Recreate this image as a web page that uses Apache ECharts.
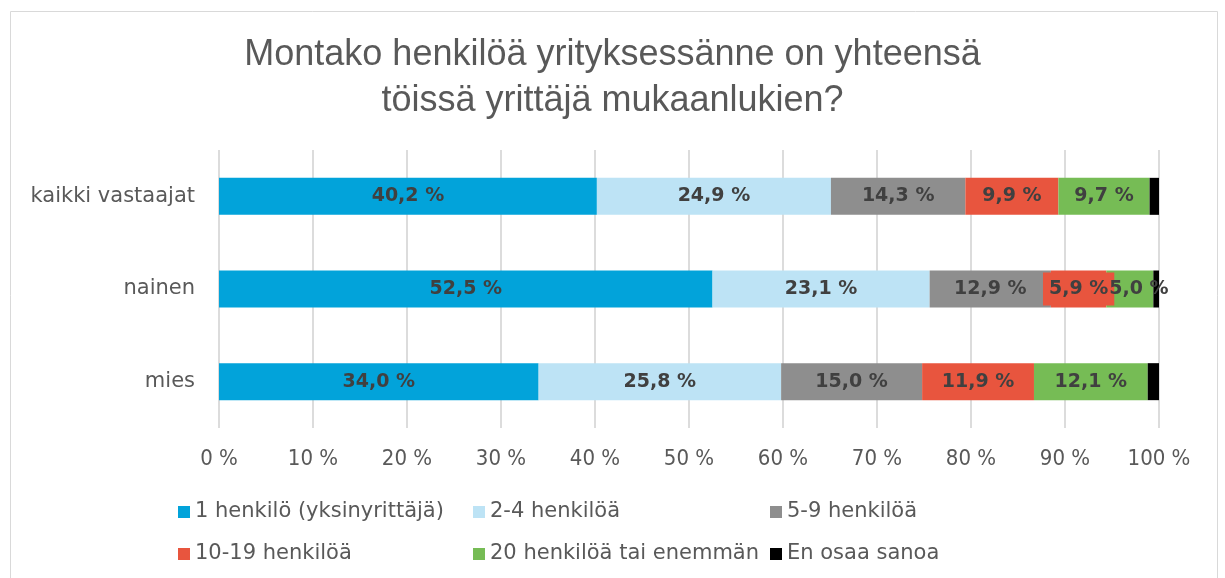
<!DOCTYPE html>
<html>
<head>
<meta charset="utf-8">
<script src="https://cdn.jsdelivr.net/npm/echarts@6/dist/echarts.min.js"></script>
<style>
  html, body { margin: 0; padding: 0; background: #fff; }
  #chart { width: 1225px; height: 578px; }
</style>
</head>
<body>
<div id="chart"></div>
<script>
const categories = ['kaikki vastaajat', 'nainen', 'mies'];
const seriesNames = [
  '1 henkilö (yksinyrittäjä)',
  '2-4 henkilöä',
  '5-9 henkilöä',
  '10-19 henkilöä',
  '20 henkilöä tai enemmän',
  'En osaa sanoa'
];
const yksin = [40.2, 52.5, 34.0];
const h2to4 = [24.9, 23.1, 25.8];
const h5to9 = [14.3, 12.9, 15.0];
const h10to19 = [9.9, 5.9, 11.9];
const h20plus = [9.7, 5.0, 12.1];
const eos = [1.0, 0.6, 1.2];
const colors = ['#02a3da', '#bde3f5', '#8e8e8e', '#e8553e', '#76bc55', '#000000'];

const chart = echarts.init(document.getElementById('chart'));

const textFont = '"DejaVu Sans", sans-serif';
const fmt = p => p.value.toFixed(1).replace('.', ',') + ' %';

const allData = [yksin, h2to4, h5to9, h10to19, h20plus, eos];

const series = allData.map((arr, i) => ({
  name: seriesNames[i],
  type: 'bar',
  stack: 'total',
  barWidth: 37,
  silent: true,
  itemStyle: { color: colors[i] },
  label: {
    show: i < 5,
    position: 'inside',
    formatter: fmt,
    color: '#404040',
    fontWeight: 'bold',
    fontSize: 19,
    fontFamily: textFont
  },
  data: arr.map((v, j) => {
    // nainen: the small segments' labels are pushed apart by Excel
    if (i === 3 && j === 1) {
      return { value: v, label: { backgroundColor: colors[3], padding: [7, 6] } };
    }
    if (i === 4 && j === 1) {
      return { value: v, label: { offset: [9, 0] } };
    }
    return v;
  })
}));

const legendText = { color: '#595959', fontSize: 21, lineHeight: 22, fontFamily: textFont };
const legendCols = [
  { left: 178, data: [seriesNames[0], seriesNames[3]] },
  { left: 473, data: [seriesNames[1], seriesNames[4]] },
  { left: 770, data: [seriesNames[2], seriesNames[5]] }
];

chart.setOption({
  animation: false,
  color: colors,
  title: {
    text: 'Montako henkilöä yrityksessänne on yhteensä\ntöissä yrittäjä mukaanlukien?',
    left: 'center',
    top: 32,
    padding: 0,
    textStyle: {
      fontFamily: '"Liberation Sans", Arial, sans-serif',
      fontWeight: 'normal',
      fontSize: 36,
      lineHeight: 46,
      color: '#595959'
    }
  },
  graphic: [{
    type: 'rect',
    shape: { x: 10.5, y: 11.5, width: 1207, height: 600 },
    style: { fill: 'none', stroke: '#d9d9d9', lineWidth: 1 },
    silent: true
  }],
  legend: legendCols.map(c => ({
    left: c.left,
    top: 501,
    padding: 0,
    orient: 'vertical',
    itemGap: 20,
    itemWidth: 12,
    itemHeight: 12,
    icon: 'rect',
    selectedMode: false,
    textStyle: legendText,
    data: c.data
  })),
  grid: { left: 219, right: 66, top: 150, bottom: 150 },
  xAxis: {
    type: 'value',
    min: 0,
    max: 100,
    interval: 10,
    axisLine: { show: false },
    axisTick: { show: false },
    splitLine: { lineStyle: { color: '#dcdcdc', width: 2 } },
    axisLabel: {
      formatter: '{value} %',
      color: '#595959',
      fontSize: 22,
      margin: 20,
      fontFamily: '"Liberation Sans Narrow", "DejaVu Sans Condensed", sans-serif'
    }
  },
  yAxis: {
    type: 'category',
    inverse: true,
    data: categories,
    axisLine: { show: false },
    axisTick: { show: false },
    axisLabel: {
      color: '#595959',
      fontSize: 21,
      margin: 24,
      fontFamily: textFont
    }
  },
  series
});
</script>
</body>
</html>
